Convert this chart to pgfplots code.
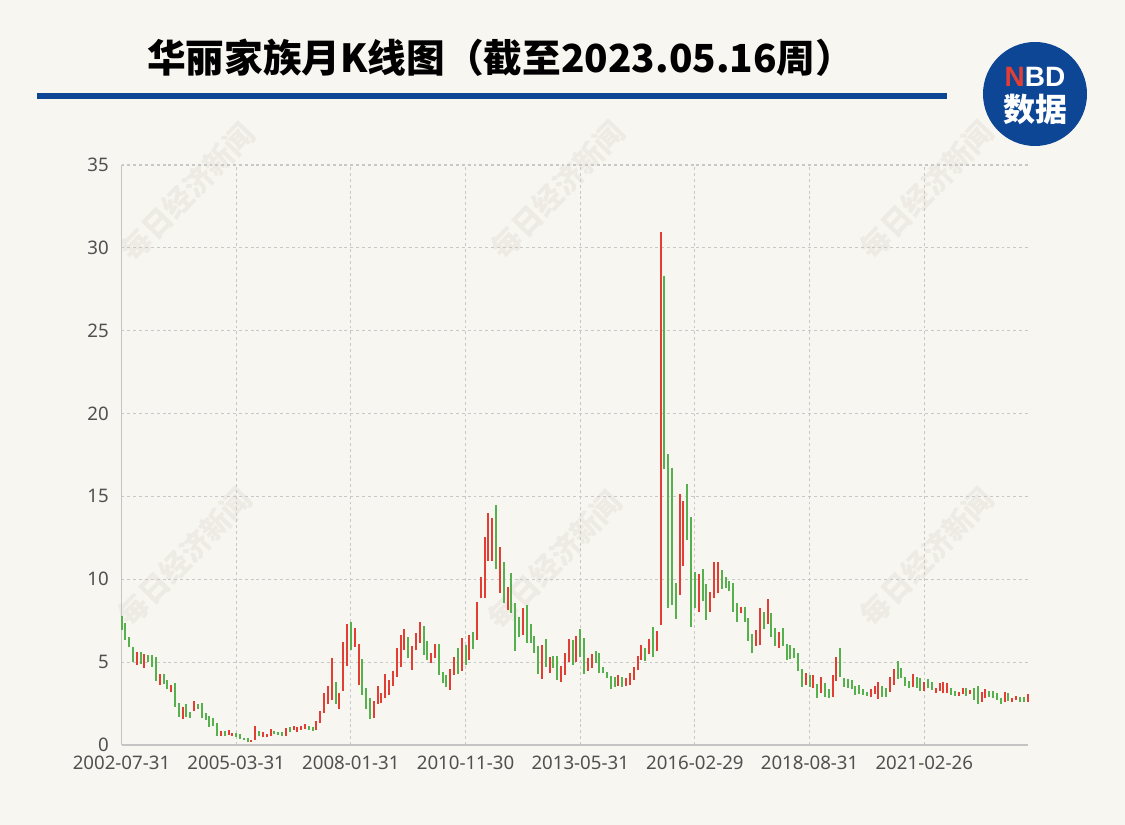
\documentclass[border=0pt]{standalone}
\usepackage{pgfplots}
\usepackage{pgfplotstable}
\pgfplotsset{compat=1.18}
\usepackage{fontspec}
\setmainfont{Noto Sans}
\newfontfamily\cjk{Noto Sans CJK SC}
\newfontfamily\lat{Liberation Sans}
\definecolor{bg}{RGB}{248,246,241}
\definecolor{upred}{RGB}{226,62,52}
\definecolor{downgreen}{RGB}{86,176,78}
\definecolor{nbdblue}{RGB}{14,70,150}
\definecolor{gridgray}{RGB}{200,200,200}
\definecolor{axisgray}{RGB}{196,196,196}
\definecolor{labelgray}{RGB}{80,80,80}
\definecolor{wm}{RGB}{238,234,228}

\pgfplotstableread{
x lo hi
4 4.83 5.63
6 4.63 5.47
10 3.62 4.27
13 3.22 3.62
16 1.55 2.28
19 2.07 2.67
26 0.56 0.84
28 0.60 0.91
29 0.54 0.74
34 0.20 0.30
35 0.30 1.17
37 0.50 0.76
38 0.46 0.66
39 0.54 0.97
43 0.56 1.01
45 0.91 1.15
46 0.77 1.07
47 0.91 1.15
48 0.97 1.27
51 0.91 1.47
52 1.31 2.07
53 1.91 3.16
54 2.46 3.58
55 2.72 5.27
57 2.17 3.12
58 3.26 6.23
59 4.77 7.30
61 5.89 7.08
62 3.62 6.08
66 1.61 2.66
67 2.46 3.58
68 2.55 3.16
69 2.85 4.27
70 3.02 3.92
71 3.58 4.48
72 4.12 5.83
73 4.73 6.64
74 5.73 6.98
76 4.53 5.97
77 5.73 6.74
78 6.14 7.40
81 4.97 5.53
82 5.23 6.08
86 3.32 4.57
87 4.22 5.33
89 4.48 6.44
91 5.13 6.64
93 6.34 8.65
94 8.85 10.16
95 8.85 12.57
96 11.12 13.98
97 11.12 13.68
99 9.19 11.97
101 8.15 9.55
105 6.64 8.25
110 3.97 6.04
112 4.36 5.29
115 3.82 4.77
116 4.22 5.53
117 5.03 6.38
119 5.03 6.60
122 4.47 5.27
123 4.67 5.47
130 3.56 4.22
132 3.56 4.06
133 3.62 4.33
134 3.92 4.73
135 4.53 5.37
136 5.13 6.04
138 5.47 6.40
140 5.68 6.86
141 7.24 30.94
146 9.05 15.13
147 10.82 14.72
151 8.01 10.30
154 8.01 9.25
155 8.85 11.02
156 9.15 11.02
162 7.95 8.35
166 5.97 6.94
167 6.04 8.25
169 7.28 8.79
172 5.83 6.84
179 3.62 4.33
181 3.42 4.22
183 3.16 4.12
186 2.92 4.22
187 3.88 5.33
196 2.88 3.36
197 3.06 3.56
198 2.78 3.82
201 3.22 4.08
202 3.62 4.57
207 3.52 4.27
210 3.26 3.82
213 3.12 3.46
214 3.28 3.72
215 3.12 3.78
216 3.12 3.72
219 2.98 3.18
220 3.06 3.46
222 3.06 3.32
225 2.61 3.22
226 2.82 3.36
231 2.58 3.18
233 2.61 2.85
234 2.72 2.98
237 2.61 3.06
}\upcandles

\pgfplotstableread{
x lo hi
0 6.94 7.80
1 6.34 7.34
2 5.89 6.54
3 5.03 5.89
5 4.89 5.59
7 5.03 5.43
8 4.73 5.43
9 3.88 5.29
11 3.68 4.27
12 3.38 3.92
14 2.31 3.76
15 1.71 2.52
17 1.67 2.46
18 1.65 1.97
20 2.17 2.46
21 1.61 2.55
22 1.51 1.91
23 1.10 1.77
24 1.15 1.63
25 0.56 1.35
27 0.56 0.84
30 0.50 0.74
31 0.36 0.65
32 0.30 0.44
33 0.16 0.40
36 0.56 0.84
40 0.66 0.86
41 0.60 0.80
42 0.56 0.80
44 0.77 1.07
49 0.91 1.15
50 0.85 1.07
56 2.46 3.82
60 5.73 7.44
63 3.02 5.17
64 2.17 3.42
65 1.55 2.85
75 5.23 6.54
79 5.43 7.18
80 5.13 6.29
83 4.22 6.10
84 3.76 4.42
85 3.48 4.22
88 4.27 5.83
90 4.83 6.04
92 5.77 6.84
98 10.60 14.48
100 8.55 11.06
102 7.98 10.36
103 5.69 8.59
104 6.54 7.71
106 6.17 8.45
107 6.14 7.30
108 5.57 6.58
109 4.28 5.97
111 4.73 6.38
113 4.63 5.37
114 3.92 5.37
118 4.83 6.34
120 5.33 6.98
121 4.27 6.48
124 4.97 5.67
125 4.33 5.53
126 4.33 4.73
127 4.02 4.42
128 3.38 4.16
129 3.52 4.12
131 3.52 4.12
137 5.07 5.83
139 5.33 7.14
142 16.66 28.32
143 8.25 17.54
144 8.45 16.74
145 7.60 9.80
148 12.37 15.73
149 7.14 13.78
150 8.29 10.42
152 8.69 10.62
153 7.54 9.70
157 9.41 10.56
158 9.46 10.12
159 9.29 9.90
160 8.05 9.76
161 7.44 8.55
163 7.44 8.35
164 6.28 7.68
165 5.53 6.68
168 6.98 8.05
170 6.54 7.98
171 5.97 7.08
173 5.97 7.04
174 5.13 6.10
175 5.17 6.04
176 5.23 5.83
177 4.48 5.53
178 3.48 4.59
180 3.48 4.22
182 2.82 3.66
184 2.88 3.76
185 2.82 3.36
188 4.08 5.83
189 3.52 4.02
190 3.42 3.96
191 3.36 3.92
192 3.02 3.56
193 3.08 3.62
194 3.02 3.36
195 2.96 3.22
199 2.92 3.58
200 2.92 3.46
203 3.96 5.07
204 4.02 4.63
205 3.58 4.12
206 3.46 3.86
208 3.46 4.08
209 3.26 4.06
211 3.42 3.96
212 3.32 3.82
217 3.02 3.46
218 2.98 3.26
221 2.98 3.46
223 2.72 3.42
224 2.46 3.56
227 2.92 3.26
228 2.82 3.26
229 2.72 3.16
230 2.47 2.85
232 2.66 3.12
235 2.58 2.92
236 2.58 2.92
}\downcandles

\begin{document}
\begin{tikzpicture}
% background, 1125 x 825 px at 0.75pt per px
\fill[bg] (0pt,0pt) rectangle (843.75pt,618.75pt);
% watermarks
\foreach \wx/\wy in {141/474.75, 418.5/476.25, 695.25/476.25, 138.75/201, 416.25/198.75, 695.25/201}{
  \node[rotate=46, text=wm, font=\cjk\bfseries\fontsize{22pt}{22pt}\selectfont] at (\wx pt,\wy pt) {每日经济新闻};
}
% title
\node[anchor=west, inner sep=0pt, font=\cjk\bfseries\fontsize{29pt}{29pt}\selectfont] at (110.25pt,575.25pt) {华丽家族月K线图（截至2023.05.16周）};
\fill[nbdblue] (27.75pt,544.7pt) rectangle (710.25pt,549.2pt);
% logo
\fill[nbdblue] (776.25pt,548.25pt) circle (39pt);
\node[font=\lat\bfseries\fontsize{21pt}{21pt}\selectfont, text=white, inner sep=0pt] at (776.25pt,561pt) {\textcolor{upred}{N}BD};
\node[font=\cjk\bfseries\fontsize{24pt}{24pt}\selectfont, text=white, inner sep=0pt] at (776.25pt,537pt) {数据};

\begin{axis}[
  at={(91.125pt,60pt)}, anchor=south west,
  scale only axis, width=679.5pt, height=435pt,
  xmin=0, xmax=237, ymin=0, ymax=35,
  clip=false,
  axis x line*=bottom, axis y line*=left,
  axis line style={draw=axisgray, line width=1pt, -},
  xtick={0,30,60,90,120,150,180,210},
  xticklabels={2002-07-31,2005-03-31,2008-01-31,2010-11-30,2013-05-31,2016-02-29,2018-08-31,2021-02-26},
  ytick={0,5,10,15,20,25,30,35},
  major tick length=0pt,
  grid=major,
  major grid style={draw=gridgray, line width=0.8pt, dash pattern=on 2.2pt off 2.2pt},
  tick label style={font=\fontsize{14pt}{14pt}\selectfont, text=labelgray},
  /pgf/number format/assume math mode=true,
  xticklabel style={yshift=-4.5pt},
  yticklabel style={xshift=-6pt},
]
\addplot[draw=none, mark=none, forget plot,
  error bars/.cd, y dir=plus, y explicit, error mark=none,
  error bar style={line width=1.5pt, draw=upred, solid}]
  table[x=x, y=lo, y error plus expr=\thisrow{hi}-\thisrow{lo}] {\upcandles};
\addplot[draw=none, mark=none, forget plot,
  error bars/.cd, y dir=plus, y explicit, error mark=none,
  error bar style={line width=1.5pt, draw=downgreen, solid}]
  table[x=x, y=lo, y error plus expr=\thisrow{hi}-\thisrow{lo}] {\downcandles};
\end{axis}
\end{tikzpicture}
\end{document}
